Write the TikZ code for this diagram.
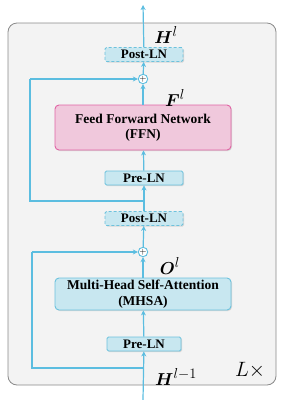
\documentclass[tikz,border=0pt]{standalone}
\usepackage{amsmath,bm}
\usepackage{fontspec}
\setmainfont{Liberation Serif}
\usetikzlibrary{arrows.meta,shadows}
\definecolor{lineblue}{HTML}{5BBDE0}
\definecolor{boxblue}{HTML}{C8E7F0}
\definecolor{boxborder}{HTML}{6CC2DD}
\definecolor{pinkfill}{HTML}{F0C8DC}
\definecolor{pinkborder}{HTML}{E064A4}
\definecolor{panelfill}{HTML}{F3F3F3}
\definecolor{panelborder}{HTML}{8A8A8A}
\tikzset{
  flow/.style={draw=lineblue, line width=1.2pt, -{Stealth[length=5pt,width=5pt]}},
  plain/.style={draw=lineblue, line width=1.2pt},
  lnbox/.style={draw=boxborder, fill=boxblue, line width=0.9pt, rounded corners=1.5pt, minimum width=78pt, minimum height=14pt, inner sep=0pt, font=\bfseries\fontsize{13}{14}\selectfont, drop shadow={shadow xshift=1pt, shadow yshift=-1pt, opacity=0.25}},
  postbox/.style={lnbox, dashed, dash pattern=on 3pt off 2pt},
  bigbox/.style={draw=boxborder, fill=boxblue, line width=0.9pt, rounded corners=4pt, minimum width=176pt, minimum height=32pt, inner sep=0pt, align=center, font=\bfseries\fontsize{13.5}{15.5}\selectfont, drop shadow={shadow xshift=1pt, shadow yshift=-1pt, opacity=0.25}},
  ffnbox/.style={bigbox, draw=pinkborder, fill=pinkfill, minimum height=45pt},
  addnode/.style={circle, draw=lineblue, fill=white, line width=0.9pt, minimum size=9pt, inner sep=0pt, font=\fontsize{9}{9}\selectfont},
  mlabel/.style={font=\fontsize{19}{19}\selectfont, inner sep=0pt}
}
\begin{document}
\begin{tikzpicture}[x=1pt,y=-1pt]
\useasboundingbox (0,0) rectangle (288,400);
% panel
\draw[draw=panelborder, fill=panelfill, line width=0.8pt, rounded corners=9pt] (8,23) rectangle (276,385);
% coordinates
\coordinate (top) at (143,5);
\coordinate (bot) at (143,400);
\coordinate (inA) at (143,368);
\coordinate (loopA) at (32,368);
\coordinate (loopAt) at (32,252);
\coordinate (inB) at (143,201);
\coordinate (loopB) at (30,201);
\coordinate (loopBt) at (30,79);
% nodes
\node[postbox] (post2) at (144,54.5) {Post-LN};
\node[addnode] (add2) at (143,79) {$+$};
\node[ffnbox] (ffn) at (143,127.5) {Feed Forward Network\\(FFN)};
\node[lnbox] (pre2) at (144,178) {Pre-LN};
\node[postbox] (post1) at (144,218.5) {Post-LN};
\node[addnode] (add1) at (143,252) {$+$};
\node[bigbox] (mhsa) at (143,294) {Multi-Head Self-Attention\\(MHSA)};
\node[lnbox, minimum width=74pt] (pre1) at (144,344) {Pre-LN};
% labels
\node[mlabel] (Hl) at (166,35) {$\bm{H}^{l}$};
\node[mlabel] (Fl) at (175,98) {$\bm{F}^{l}$};
\node[mlabel] (Ol) at (170,266) {$\bm{O}^{l}$};
\node[mlabel] (Hl1) at (176,377) {$\bm{H}^{l-1}$};
\node[font=\fontsize{22}{22}\selectfont, inner sep=0pt] (Lx) at (250,370) {$L\times$};
% connectors
\draw[flow] (bot) -- (pre1);
\draw[flow] (pre1) -- (mhsa);
\draw[flow] (mhsa) -- (add1);
\draw[plain] (inA) -- (loopA) -- (loopAt);
\draw[flow] (loopAt) -- (add1);
\draw[flow] (add1) -- (post1);
\draw[flow] (post1) -- (pre2);
\draw[flow] (pre2) -- (ffn);
\draw[flow] (ffn) -- (add2);
\draw[plain] (inB) -- (loopB) -- (loopBt);
\draw[flow] (loopBt) -- (add2);
\draw[flow] (add2) -- (post2);
\draw[flow] (post2) -- (top);
\end{tikzpicture}
\end{document}
